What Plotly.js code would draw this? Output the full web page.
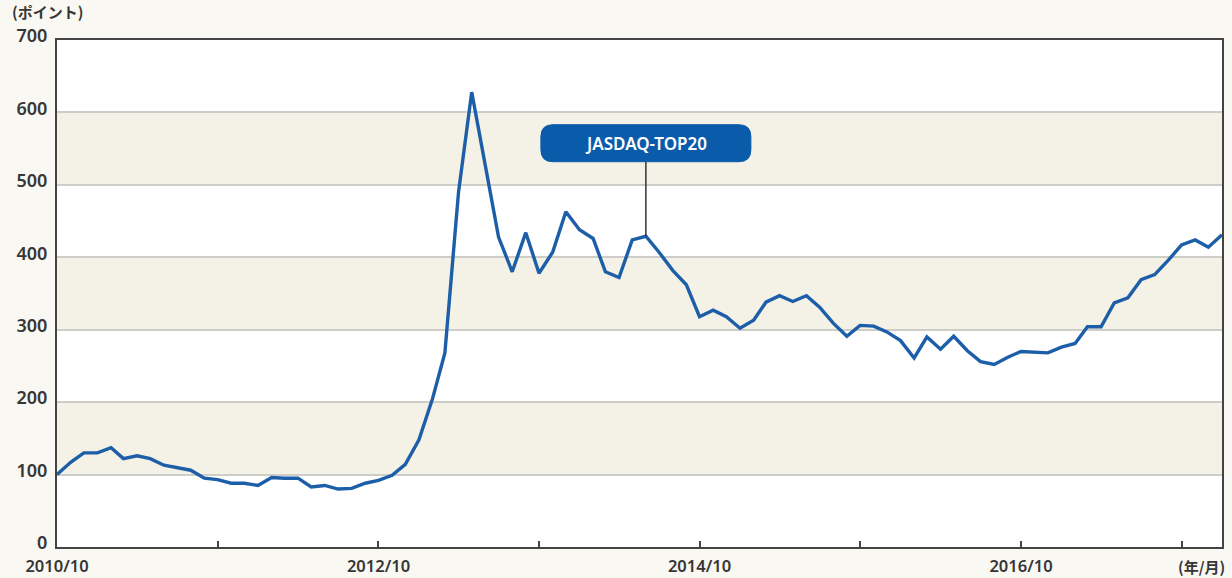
<!DOCTYPE html>
<html>
<head>
<meta charset="utf-8">
<script src="https://cdn.plot.ly/plotly-3.0.1.min.js"></script>
<style>
  html, body { margin: 0; padding: 0; background: #faf8f2; }
  #chart { width: 1232px; height: 578px; }
</style>
</head>
<body>
<div id="chart"></div>
<script>
// ---- data ----
var startMonth = "2010-10";   // first monthly observation
var values = [
  100, 117, 130, 130, 137, 122, 126, 122, 113, 110, 106, 95,
  93, 88, 88, 85, 96, 95, 95, 83, 85, 80, 81, 88,
  92, 99, 114, 148, 205, 268, 490, 628, 527, 428, 380, 434,
  378, 407, 463, 438, 426, 380, 372, 424, 429, 407, 382, 362,
  318, 327, 318, 302, 313, 338, 347, 339, 347, 331, 309, 291,
  306, 305, 297, 285, 261, 290, 273, 291, 271, 256, 252, 262,
  270, 269, 268, 276, 281, 304, 304, 337, 344, 369, 376, 396,
  417, 424, 414, 431
];
var seriesName = "JASDAQ-TOP20";
var labelDate = "2014-06-01";   // point the label points to
var tickDates = ["2010-10-01","2011-10-01","2012-10-01","2013-10-01","2014-10-01","2015-10-01","2016-10-01","2017-10-01"];
var tickLabels = ["2010/10","","2012/10","","2014/10","","2016/10",""];
var yTicks = [0,100,200,300,400,500,600,700];
var bandRanges = [[100,200],[300,400],[500,600]];
var yUnit = "(ポイント)";
var xUnit = "(年/月)";

// build month dates
function monthDates(start, n) {
  var p = start.split("-"); var y = +p[0], m = +p[1];
  var out = [];
  for (var i = 0; i < n; i++) {
    var mm = m + i; var yy = y + Math.floor((mm - 1) / 12); mm = ((mm - 1) % 12) + 1;
    out.push(yy + "-" + (mm < 10 ? "0" : "") + mm + "-01");
  }
  return out;
}
var dates = monthDates(startMonth, values.length);
var labelValue = values[dates.indexOf(labelDate)];

var font = {family: "Noto Sans, DejaVu Sans, sans-serif", size: 18, color: "#363636", weight: 600};
var xfont = {family: "Noto Sans, DejaVu Sans, sans-serif", size: 16.5, color: "#363636", weight: 600};

var shapes = bandRanges.map(function (b) {
  return {type: "rect", xref: "paper", yref: "y", x0: 0, x1: 1, y0: b[0], y1: b[1],
          fillcolor: "#f4f1e6", line: {width: 0}, layer: "below"};
});
// connector line
shapes.push({type: "line", xref: "x", yref: "y", x0: labelDate, x1: labelDate,
             y0: labelValue, y1: 532, line: {color: "#333", width: 1.5}, layer: "above"});
// rounded label box (pixel sized around anchor)
var w = 105, h = 18.5, r = 12;
var path = "M " + (-w + r) + "," + (-h) + " L " + (w - r) + "," + (-h) +
  " Q " + w + "," + (-h) + " " + w + "," + (-h + r) +
  " L " + w + "," + (h - r) + " Q " + w + "," + h + " " + (w - r) + "," + h +
  " L " + (-w + r) + "," + h + " Q " + (-w) + "," + h + " " + (-w) + "," + (h - r) +
  " L " + (-w) + "," + (-h + r) + " Q " + (-w) + "," + (-h) + " " + (-w + r) + "," + (-h) + " Z";
shapes.push({type: "path", xref: "x", yref: "y", xsizemode: "pixel", ysizemode: "pixel",
             xanchor: labelDate, yanchor: 557.5, path: path,
             fillcolor: "#0b5bab", line: {color: "#0b5bab", width: 1}, layer: "above"});

var trace = {
  x: dates, y: values, type: "scatter", mode: "lines", name: seriesName,
  line: {color: "#1d5ea8", width: 3.4}, hoverinfo: "x+y"
};

var layout = {
  width: 1232, height: 578,
  margin: {l: 57, r: 10, t: 40, b: 31},
  paper_bgcolor: "#faf8f2",
  plot_bgcolor: "#ffffff",
  showlegend: false,
  font: font,
  xaxis: {
    type: "date", range: ["2010-10-01", "2018-01-01"],
    tickmode: "array", tickvals: tickDates, ticktext: tickLabels,
    ticks: "inside", ticklen: 6, tickwidth: 2, tickcolor: "#444",
    ticklabelstandoff: 3,
    showgrid: false, zeroline: false,
    showline: true, linecolor: "#444", linewidth: 2, mirror: true,
    tickfont: xfont
  },
  yaxis: {
    range: [0, 700], tickmode: "array", tickvals: yTicks,
    showgrid: true, gridcolor: "#cfcdc8", gridwidth: 2,
    zeroline: false, ticks: "", ticklabelstandoff: 4, ticklabelshift: -4,
    showline: true, linecolor: "#444", linewidth: 2, mirror: true,
    tickfont: font
  },
  shapes: shapes,
  annotations: [
    {xref: "x", yref: "y", x: labelDate, y: 557.5, text: seriesName, showarrow: false,
     font: {family: "Noto Sans, DejaVu Sans, sans-serif", size: 17, color: "#ffffff", weight: 600}},
    {xref: "paper", yref: "paper", x: -0.04, y: 1.0, yshift: 16, xanchor: "left", yanchor: "bottom",
     text: yUnit, showarrow: false, font: {family: "Noto Sans CJK JP, Noto Sans, sans-serif", size: 15, color: "#363636", weight: 600}},
    {xref: "paper", yref: "paper", x: 1.004, y: 0, yshift: -19, xanchor: "right", yanchor: "middle",
     text: xUnit, showarrow: false, font: {family: "Noto Sans CJK JP, Noto Sans, sans-serif", size: 15, color: "#363636", weight: 600}}
  ]
};

Plotly.newPlot("chart", [trace], layout, {displayModeBar: false, staticPlot: true});
</script>
</body>
</html>
